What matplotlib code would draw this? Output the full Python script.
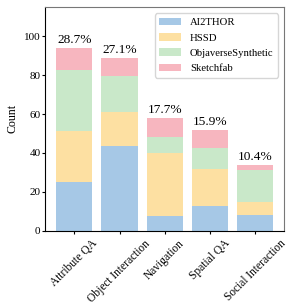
import numpy as np
import matplotlib
matplotlib.use("Agg")
import matplotlib.pyplot as plt

plt.rcParams['font.family'] = 'Liberation Serif'
plt.rcParams['font.size'] = 8

categories = ["Attribute QA", "Object Interaction", "Navigation", "Spatial QA", "Social Interaction"]
ai2thor = [25, 43.5, 7.5, 12.5, 8]
hssd = [26.5, 17.5, 32.5, 19, 7]
objaverse = [31, 18.5, 8, 11, 16]
sketchfab = [11.5, 9.5, 10, 9.5, 3]
pct_labels = ["28.7%", "27.1%", "17.7%", "15.9%", "10.4%"]

series = [("AI2THOR", ai2thor, "#a6c8e6"),
          ("HSSD", hssd, "#fde0a2"),
          ("ObjaverseSynthetic", objaverse, "#c9e8c9"),
          ("Sketchfab", sketchfab, "#f7b6bf")]

fig = plt.figure(figsize=(2.87, 3.06), dpi=100)
ax = fig.add_axes([0.158, 0.246, 0.832, 0.731])

x = np.arange(len(categories))
bottom = np.zeros(len(categories))
for name, vals, col in series:
    ax.bar(x, vals, 0.8, bottom=bottom, color=col, label=name)
    bottom += np.array(vals)

for xi, top, lab in zip(x, bottom, pct_labels):
    ax.text(xi, top + 0.8, lab, ha='center', va='bottom', fontsize=9.6)

ax.set_ylim(0, 115)
ax.set_ylabel("Count", fontsize=8.6, labelpad=4)
ax.set_xticks(x)
ax.set_xticklabels(categories, rotation=45, ha='center', fontsize=8.3)
ax.tick_params(axis='y', labelsize=8, length=2.5, pad=1)
ax.tick_params(axis='x', length=2.5, pad=2.5)
ax.spines['top'].set_color('#777777')
ax.spines['right'].set_color('#777777')

ax.legend(loc='upper right', fontsize=7.7, frameon=True, fancybox=True,
          edgecolor='#cccccc', handlelength=2.1, handletextpad=0.8,
          borderpad=0.4, labelspacing=0.55, borderaxespad=0.6)

fig.savefig("out.png", dpi=100)
